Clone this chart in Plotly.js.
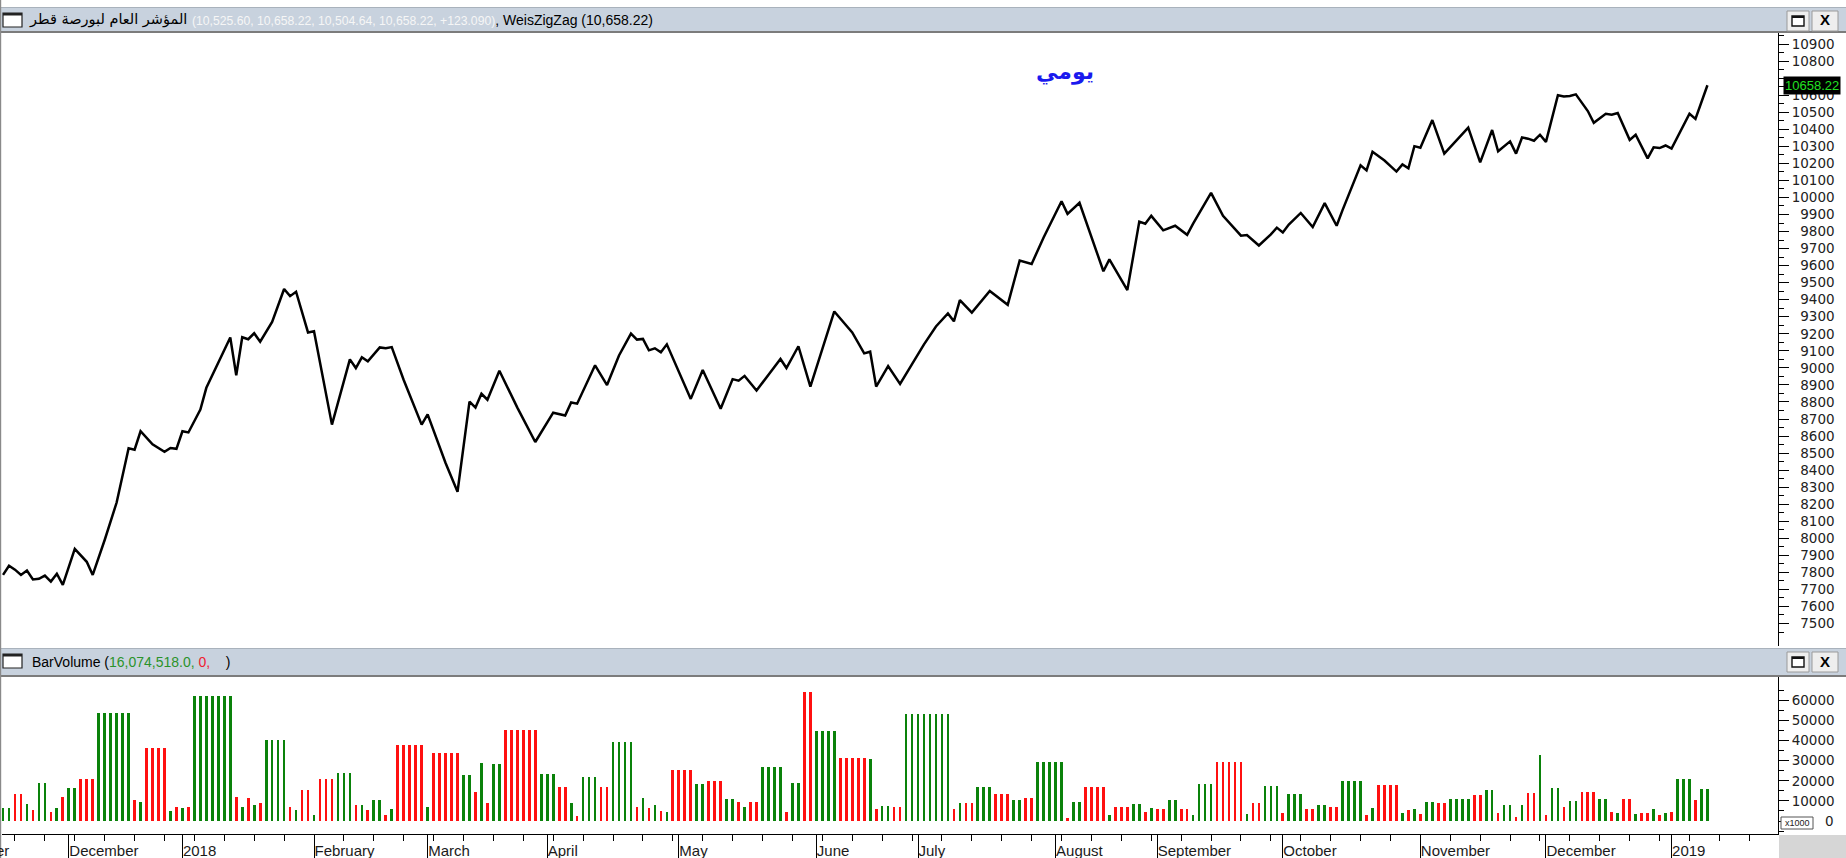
<!DOCTYPE html>
<html><head><meta charset="utf-8">
<script src="https://cdn.plot.ly/plotly-3.0.1.min.js"></script>
<style>html,body{margin:0;padding:0;background:#fff;overflow:hidden}#chart{width:1846px;height:858px}</style>
</head><body><div id="chart"></div>
<script>
// ---------- data ----------
const monthTicks  = [11, 30, 52, 71, 91, 113, 136, 153, 176, 193, 214, 237, 258, 279];
const monthLabels = ['December','2018','February','March','April','May','June','July','August','September','October','November','December','2019'];

const lineDay = [0,1,2,3,4,5,6,7,8,9,10,12,14,15,17,19,21,22,23,25,27,28,29,30,31,33,34,36,38,39,40,41,42,43,45,47,48,49,51,52,55,58,59,60,61,63,64,65,67,70,71,74,76,78,79,80,81,83,86,89,92,94,95,96,99,101,103,105,106,107,108,109,110,111,113,115,117,120,122,123,124,126,128,130,131,133,135,139,142,144,145,146,148,150,152,154,156,158,159,160,162,165,168,170,172,174,177,178,180,184,185,188,190,191,192,194,196,197,198,199,202,204,207,208,210,212,213,214,215,217,219,221,223,224,227,228,229,231,233,234,235,236,237,239,241,245,247,249,250,252,253,254,255,256,257,258,260,261,262,263,265,266,268,269,270,272,273,275,276,277,278,279,282,283,285];
const lineVal = [7785,7839,7816,7785,7811,7758,7762,7781,7746,7792,7727,7938,7862,7785,7990,8210,8528,8520,8628,8551,8507,8530,8525,8628,8621,8755,8883,9034,9178,8957,9180,9168,9203,9154,9270,9463,9421,9447,9208,9215,8667,9050,8999,9062,9038,9120,9115,9122,8929,8667,8727,8442,8273,8802,8767,8848,8813,8983,8767,8565,8737,8720,8797,8790,9015,8899,9073,9201,9166,9170,9103,9115,9092,9138,8983,8818,8987,8760,8934,8925,8953,8867,8960,9052,8999,9127,8890,9331,9208,9085,9095,8890,9011,8906,9022,9138,9243,9319,9273,9398,9324,9451,9370,9630,9610,9765,9978,9904,9969,9567,9637,9456,9858,9846,9892,9807,9834,9810,9781,9846,10027,9892,9776,9780,9718,9783,9823,9795,9841,9909,9827,9967,9834,9927,10189,10159,10268,10217,10152,10194,10171,10301,10292,10454,10257,10410,10206,10396,10271,10329,10257,10352,10345,10333,10368,10326,10600,10593,10595,10605,10507,10438,10491,10485,10495,10338,10368,10229,10294,10290,10305,10287,10491,10461,10658.22];

// volume in thousands, one bar per trading day
const volVal = [
6470,6470,13600,13600,8290,5300,18900,18900,4480,6470,
11940,16400,16400,20700,20700,20700,53900,53900,53900,53900,
53900,53900,10300,9450,36300,36300,36300,36300,5000,6960,
6470,6960,62000,62000,62000,62000,62000,62000,62000,11940,
6960,11440,7790,8950,40100,40100,40100,40100,6960,5300,
15250,15250,2820,20700,20700,20700,23900,23900,23900,7790,
7790,5300,10300,10300,2820,5800,37600,37600,37600,37600,
37600,6960,33800,33800,33800,33800,33800,22700,22700,14400,
28850,8950,28200,28200,45400,45400,45400,45400,45400,45400,
23200,23200,23200,16900,16900,8950,2490,21900,21900,21900,
16900,16900,39300,39300,39300,39300,6960,11440,6470,7790,
4970,4480,25500,25500,25500,25500,18240,18240,19730,19730,
19730,10780,10780,9450,6960,9450,9450,26860,26860,26860,
26860,4480,18900,18900,64200,64200,44770,44770,44770,44770,
31340,31340,31340,31340,31340,30670,5800,7460,7460,6960,
6960,53060,53060,53060,53060,53060,53060,53060,53060,5800,
8950,8950,8950,16900,16900,16900,13260,13260,13260,10280,
10280,11440,11440,29500,29500,29500,29500,29500,1660,9450,
9450,16900,16900,16900,16900,2820,6960,6960,6960,8290,
8290,4480,6470,5800,5800,10280,10280,5800,5800,3000,
18200,18200,18200,29500,29500,29500,29500,29500,3480,9120,
9120,17600,17600,17600,4150,13400,13400,13400,5800,5800,
7800,7800,7130,7130,20060,20060,20060,20060,2980,6630,
17900,17900,17900,17900,4150,5470,5800,3480,9600,9600,
9120,9120,10900,10900,10900,10900,12900,12900,15400,15400,
4150,7960,7960,2150,7960,14100,14100,32800,2980,16580,
16580,7130,10100,10100,14600,14600,14600,10800,10800,4640,
4150,10800,10800,3480,4150,4150,5800,2980,4150,4640,
20700,20700,20700,10400,16074.5,16074.5];
const volDir = ("GGRRGRGGRG"+"RGGRRRGGGG"+"GGRGRRRRGR"+"GRGGGGGGGR"+"GRGRGGGGRG"+
  "RRGRRRGGGR"+"GRGGRGRRRR"+"RGRRRRRGGR"+"GRGGRRRRRR"+"GGGRRGRGGG"+
  "RRGGGGRGRG"+"RGRRRRGGRR"+"RGGRGRRGGG"+"GRGGRRGGGG"+"RRRRRGRGGR"+
  "RGGGGGGGGR"+"GRRGGGRRRG"+"GRRGGGGGRG"+"GRRRRGRRRG"+"GRGRRGGRRG"+
  "GGGRRRRRGR"+"RGGGRGGGRR"+"GGRRGGGGRG"+"RRRRGRGRGG"+"RRGGGGRRGG"+
  "RGGRGRRGRG"+"GRGGRRRGGR"+"GRRGRRGRGR"+"GGGRGG").split('');

const priceTicks = [7500,7600,7700,7800,7900,8000,8100,8200,8300,8400,8500,8600,8700,8800,8900,9000,9100,9200,9300,9400,9500,9600,9700,9800,9900,10000,10100,10200,10300,10400,10500,10600,10700,10800,10900];
const priceHidden = [10700];           // label covered by the last-price box in the reference
const volTicks = [0,10000,20000,30000,40000,50000,60000];
const lastClose = 10658.22;
const titleAr = 'المؤشر العام لبورصة قطر';
const titleNums = '(10,525.60, 10,658.22, 10,504.64, 10,658.22, +123.090)';
const titleZig = ', WeisZigZag (10,658.22)';
const volTitle = 'BarVolume (';
const volGreen = '16,074,518.0,';
const volRed = ' 0,';
const dailyLabel = 'يومي';

// ---------- layout helpers ----------
const W=1846,H=858,L=2,R=68,T=33,B=24;
const pw=W-L-R, ph=H-T-B;
const xp = px => (px-L)/pw;
const yp = py => (H-B-py)/ph;
const pad = v => '\u2007'.repeat(Math.max(0,5-String(v).length)) + v;
const GREEN='#0a820a', RED='#ff1010';

const barX = volVal.map((v,i)=>i);
const traces = [
  {type:'bar', x:barX, y:volVal, xaxis:'x', yaxis:'y2', width:0.45,
   marker:{color:volDir.map(d=>d==='G'?GREEN:RED), line:{width:0}}, hoverinfo:'skip', showlegend:false},
  {type:'scatter', mode:'lines', x:lineDay, y:lineVal, xaxis:'x', yaxis:'y',
   line:{color:'#000', width:2.5}, hoverinfo:'skip', showlegend:false},
  {type:'scatter', mode:'markers', x:[monthTicks[0]], y:[null], xaxis:'x3', yaxis:'y2', showlegend:false, hoverinfo:'skip'},
  {type:'scatter', mode:'markers', x:[monthTicks[0]], y:[null], xaxis:'x4', yaxis:'y2', showlegend:false, hoverinfo:'skip'}
];

const xr = [-0.17, 296.8];
const shapes = [];
function rect(x0,y0,x1,y1,fill,lc,lw){shapes.push({type:'rect',xref:'paper',yref:'paper',x0:xp(x0),x1:xp(x1),y0:yp(y1),y1:yp(y0),fillcolor:fill,line:{color:lc||fill,width:lw||0},layer:'above'});}
function hline(x0,x1,y,c,w){shapes.push({type:'line',xref:'paper',yref:'paper',x0:xp(x0),x1:xp(x1),y0:yp(y),y1:yp(y),line:{color:c,width:w},layer:'above'});}
function vline(x,y0,y1,c,w){shapes.push({type:'line',xref:'paper',yref:'paper',x0:xp(x),x1:xp(x),y0:yp(y0),y1:yp(y1),line:{color:c,width:w},layer:'above'});}

function header(top,bot){
  rect(0,top,1846,bot,'#c8d2de');
  hline(0,1846,top+0.5,'#a9b2bc',1);
  hline(0,1846,bot,'#7c7c7c',2);
  rect(3,top+6,22,top+20,'#ffffff','#222',1.2);
  rect(3,top+6,22,top+8.5,'#222');
  rect(1787,top+4,1809,top+24,'#eeeeee','#9a9a9a',1);
  rect(1812,top+4,1838,top+24,'#eeeeee','#9a9a9a',1);
  rect(1792,top+9,1804,top+19,'#ffffff','#111',1.4);
  rect(1792,top+9,1804,top+11,'#111');
}
header(7,32);
header(648,676);
vline(0.6,0,858,'#8a8a8a',1.2);
rect(1781,817,1813,829,'#ffffff','#555',1);
rect(1779,835,1846,858,'#d6d6d6');

const annotations = [
  {xref:'paper',yref:'paper',x:xp(27),y:yp(20),xanchor:'left',yanchor:'middle',showarrow:false,
   text:titleAr,font:{family:'DejaVu Sans',size:14.5,color:'#000'}},
  {xref:'paper',yref:'paper',x:xp(190),y:yp(20),xanchor:'left',yanchor:'middle',showarrow:false,
   text:'<span style="color:#f6f6f6;font-size:12.2px">'+titleNums+'</span><span style="color:#000">'+titleZig+'</span>',
   font:{family:'Liberation Sans',size:14,color:'#000'}},
  {xref:'paper',yref:'paper',x:xp(30),y:yp(662),xanchor:'left',yanchor:'middle',showarrow:false,
   text:volTitle+'<span style="color:#2a922a">'+volGreen+'</span><span style="color:#f02030">'+volRed+'</span>\u00a0\u00a0\u00a0\u00a0)',
   font:{family:'Liberation Sans',size:14,color:'#000'}},
  {xref:'paper',yref:'paper',x:xp(1065),y:yp(72),xanchor:'center',yanchor:'middle',showarrow:false,
   text:'<b>'+dailyLabel+'</b>',font:{family:'DejaVu Sans',size:22,color:'#1a1aee'}},
  {xref:'paper',yref:'y',x:xp(1783),y:lastClose,xanchor:'left',yanchor:'middle',showarrow:false,
   text:String(lastClose),bgcolor:'#000',borderpad:1,font:{family:'Liberation Sans',size:13,color:'#22e022'}},
  {xref:'paper',yref:'paper',x:xp(1797),y:yp(823),xanchor:'center',yanchor:'middle',showarrow:false,
   text:'x1000',font:{family:'Liberation Sans',size:9,color:'#222'}},
  {xref:'paper',yref:'y2',x:xp(1836),y:volTicks[0],xanchor:'right',yanchor:'middle',showarrow:false,
   text:String(volTicks[0]),font:{family:'DejaVu Sans',size:13.5,color:'#222'}},
  {xref:'paper',yref:'paper',x:xp(11),y:yp(850),xanchor:'right',yanchor:'middle',showarrow:false,
   text:'er',font:{family:'Liberation Sans',size:15,color:'#1a1a1a'}}
];
[20,661].forEach(cy=>annotations.push({xref:'paper',yref:'paper',x:xp(1825),y:yp(cy),xanchor:'center',yanchor:'middle',showarrow:false,
   text:'<b>X</b>',font:{family:'Liberation Sans',size:15,color:'#000'}}));

const tickFont = {family:'DejaVu Sans',size:13.5,color:'#222'};
const layout = {
  width:W,height:H,margin:{l:L,r:R,t:T,b:B,pad:0},
  paper_bgcolor:'#fff',plot_bgcolor:'#fff',showlegend:false,bargap:0,
  xaxis:{range:xr,anchor:'y2',tickmode:'array',tickvals:monthTicks,ticktext:monthLabels,ticks:'',
    ticklabelposition:'outside right',ticklabelstandoff:3,showline:true,linecolor:'#000',linewidth:1,
    showgrid:false,zeroline:false,tickfont:{family:'Liberation Sans',size:15,color:'#1a1a1a'}},
  xaxis3:{range:xr,overlaying:'x',anchor:'y2',tickmode:'array',tickvals:monthTicks,ticks:'outside',ticklen:24,
    tickcolor:'#000',tickwidth:1,showticklabels:false,showline:false,showgrid:false,zeroline:false},
  xaxis4:{range:xr,overlaying:'x',anchor:'y2',tickmode:'linear',tick0:2,dtick:5,ticks:'outside',ticklen:6,
    tickcolor:'#000',tickwidth:1,showticklabels:false,showline:false,showgrid:false,zeroline:false},
  yaxis:{domain:[yp(646),1],range:[7368,10965],side:'right',anchor:'x',tickmode:'array',tickvals:priceTicks,
    ticktext:priceTicks.map(v=>priceHidden.includes(v)?'':pad(v)),ticks:'outside',ticklen:10,tickcolor:'#000',showline:true,linecolor:'#000',linewidth:1,
    showgrid:false,zeroline:false,tickfont:tickFont,
    minor:{ticks:'outside',ticklen:5,tick0:7550,dtick:100,tickcolor:'#000',showgrid:false}},
  yaxis2:{domain:[0,yp(677)],range:[-6470,71640],side:'right',anchor:'x',tickmode:'array',tickvals:volTicks,
    ticktext:volTicks.map(v=>v===0?'':pad(v)),ticks:'outside',ticklen:10,tickcolor:'#000',showline:true,linecolor:'#000',linewidth:1,
    showgrid:false,zeroline:false,tickfont:tickFont,
    minor:{ticks:'outside',ticklen:5,tick0:5000,dtick:10000,tickcolor:'#000',showgrid:false}},
  shapes:shapes, annotations:annotations
};
Plotly.newPlot('chart',traces,layout,{staticPlot:true,displayModeBar:false});
</script></body></html>
